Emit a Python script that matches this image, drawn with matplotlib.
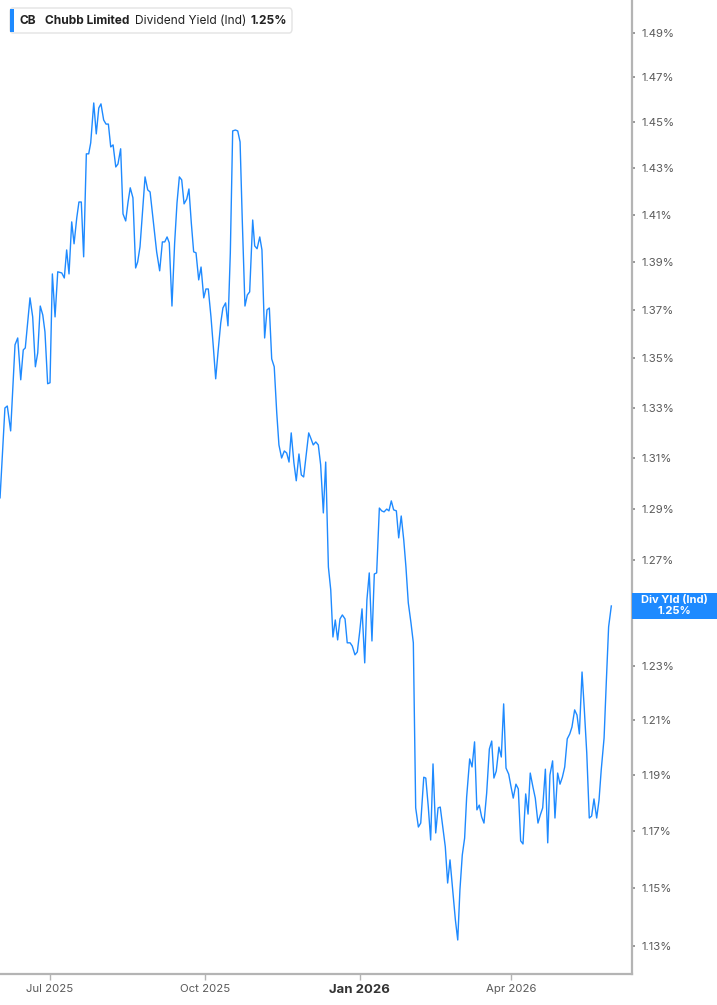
import matplotlib
matplotlib.use('Agg')
import matplotlib.pyplot as plt
import matplotlib.dates as mdates
from matplotlib.ticker import FixedLocator, NullLocator, FixedFormatter, NullFormatter
from matplotlib.patches import Rectangle, FancyBboxPatch
import pandas as pd

# ---------------- data ----------------
start_date = pd.Timestamp('2025-06-01')
days_from_start = [
    0.3, 3.2, 4.6, 6.6, 9.2, 10.8, 12.6, 14.1, 15.3, 18.1,
    19.7, 21.3, 22.7, 24.2, 25.7, 27.0, 28.6, 30.0, 31.4, 33.0,
    34.6, 37.0, 38.5, 39.9, 41.3, 42.9, 44.3, 45.9, 47.2, 48.6,
    50.0, 51.6, 53.0, 54.2, 56.0, 57.5, 59.0, 60.3, 61.9, 63.3,
    64.7, 66.1, 67.5, 69.1, 70.4, 72.0, 73.4, 75.0, 76.4, 77.7,
    79.3, 80.9, 82.1, 83.5, 85.1, 86.5, 88.1, 89.5, 91.0, 93.4,
    95.2, 96.8, 98.2, 99.6, 100.9, 102.5, 104.1, 105.5, 106.9, 108.3,
    109.7, 111.3, 112.6, 114.0, 115.4, 116.8, 118.4, 119.8, 121.4, 122.7,
    124.1, 125.7, 127.1, 128.5, 130.0, 131.5, 132.8, 134.4, 135.8, 137.2,
    138.6, 140.2, 141.6, 143.0, 144.3, 145.9, 147.3, 148.7, 150.5, 151.7,
    153.1, 154.7, 156.0, 157.6, 159.0, 160.4, 161.8, 163.3, 164.8, 166.1,
    167.7, 169.3, 170.7, 172.1, 173.4, 175.0, 176.4, 178.0, 179.4, 180.8,
    183.8, 185.2, 186.5, 188.0, 189.5, 190.9, 192.5, 193.9, 195.5, 196.9,
    198.2, 199.6, 201.0, 202.4, 203.8, 205.4, 206.7, 208.4, 209.7, 211.3,
    212.7, 214.1, 215.5, 217.1, 218.4, 219.8, 221.4, 222.8, 224.2, 225.8,
    227.2, 228.6, 230.2, 231.5, 232.9, 234.3, 235.9, 237.3, 238.8, 240.3,
    241.6, 243.0, 244.6, 246.0, 247.4, 249.0, 250.4, 252.2, 253.4, 254.9,
    256.3, 257.7, 259.3, 260.7, 262.0, 263.5, 265.0, 266.4, 267.8, 269.4,
    271.0, 272.4, 273.7, 275.1, 276.5, 277.7, 279.5, 280.9, 282.4, 283.8,
    285.2, 286.6, 288.0, 289.6, 291.2, 292.6, 293.9, 295.3, 296.9, 298.3,
    299.7, 301.1, 302.7, 304.1, 305.4, 307.0, 308.4, 309.8, 311.2, 312.8,
    314.2, 315.5, 317.1, 318.5, 320.1, 321.5, 322.9, 324.5, 325.9, 327.2,
    328.8, 330.2, 331.8, 333.2, 334.6, 336.0, 337.5, 339.0, 340.3, 341.9,
    343.3, 344.7, 346.3, 347.6, 349.1, 350.6, 352.0, 353.4, 355.0, 356.4,
    357.7, 359.4, 360.7, 362.1, 363.7,
]
yield_pct = [
    1.2942, 1.3299, 1.3307, 1.3207, 1.3556, 1.3584, 1.3413, 1.3535, 1.3543, 1.3750,
    1.3671, 1.3466, 1.3523, 1.3716, 1.3679, 1.3609, 1.3397, 1.3401, 1.3850, 1.3671,
    1.3859, 1.3854, 1.3833, 1.3951, 1.3850, 1.4070, 1.3977, 1.4087, 1.4155, 1.4155,
    1.3922, 1.4363, 1.4363, 1.4411, 1.4586, 1.4450, 1.4564, 1.4582, 1.4511, 1.4493,
    1.4493, 1.4393, 1.4402, 1.4306, 1.4319, 1.4385, 1.4104, 1.4074, 1.4155, 1.4216,
    1.4173, 1.3875, 1.3900, 1.3964, 1.4121, 1.4263, 1.4207, 1.4198, 1.4100, 1.3943,
    1.3863, 1.3985, 1.3985, 1.4006, 1.3981, 1.3716, 1.3981, 1.4151, 1.4263, 1.4250,
    1.4147, 1.4168, 1.4211, 1.4066, 1.3943, 1.3939, 1.3825, 1.3879, 1.3750, 1.3787,
    1.3787, 1.3671, 1.3547, 1.3417, 1.3535, 1.3646, 1.3708, 1.3729, 1.3634, 1.3939,
    1.4463, 1.4467, 1.4463, 1.4415, 1.4078, 1.3716, 1.3762, 1.3775, 1.4078, 1.3968,
    1.3956, 1.4006, 1.3951, 1.3584, 1.3700, 1.3708, 1.3498, 1.3466, 1.3279, 1.3151,
    1.3099, 1.3127, 1.3119, 1.3083, 1.3199, 1.3080, 1.3009, 1.3115, 1.3032, 1.3024,
    1.3199, 1.3175, 1.3151, 1.3163, 1.3151, 1.3072, 1.2883, 1.3083, 1.2674, 1.2586,
    1.2408, 1.2472, 1.2397, 1.2476, 1.2491, 1.2476, 1.2386, 1.2386, 1.2374, 1.2341,
    1.2352, 1.2427, 1.2514, 1.2311, 1.2548, 1.2651, 1.2393, 1.2647, 1.2651, 1.2902,
    1.2891, 1.2887, 1.2898, 1.2891, 1.2930, 1.2895, 1.2891, 1.2786, 1.2871, 1.2778,
    1.2674, 1.2537, 1.2461, 1.2386, 1.1782, 1.1714, 1.1728, 1.1892, 1.1889, 1.1785,
    1.1668, 1.1940, 1.1693, 1.1782, 1.1785, 1.1714, 1.1644, 1.1517, 1.1598, 1.1493,
    1.1389, 1.1320, 1.1493, 1.1615, 1.1675, 1.1821, 1.1958, 1.1929, 1.2020, 1.1775,
    1.1792, 1.1750, 1.1728, 1.1835, 1.1994, 1.2023, 1.1889, 1.1914, 1.2001, 1.1965,
    1.2159, 1.1925, 1.1903, 1.1857, 1.1817, 1.1867, 1.1850, 1.1665, 1.1654, 1.1832,
    1.1760, 1.1907, 1.1857, 1.1817, 1.1728, 1.1757, 1.1782, 1.1921, 1.1658, 1.1900,
    1.1951, 1.1746, 1.1907, 1.1867, 1.1892, 1.1929, 1.2031, 1.2049, 1.2074, 1.2137,
    1.2118, 1.2049, 1.2277, 1.2144, 1.1980, 1.1746, 1.1753, 1.1814, 1.1746, 1.1810,
    1.1918, 1.2034, 1.2236, 1.2446, 1.2525,
]
ytick_values = [1.13, 1.15, 1.17, 1.19, 1.21, 1.23, 1.25, 1.27, 1.29, 1.31,
                1.33, 1.35, 1.37, 1.39, 1.41, 1.43, 1.45, 1.47, 1.49]
hidden_tick_value = 1.25   # its label sits under the last-value box
xtick_dates = ['2025-07-01', '2025-10-01', '2026-01-01', '2026-04-01']
xtick_labels = ['Jul 2025', 'Oct 2025', 'Jan 2026', 'Apr 2026']
ticker = 'CB'
company = 'Chubb Limited'
metric = 'Dividend Yield (Ind)'
last_value_label = '1.25%'
box_label = 'Div Yld (Ind)'

# ---------------- style ----------------
BLUE = '#1e8aff'
SPINE = '#b4b4b4'
TXT = '#5a5a5a'
plt.rcParams['font.family'] = ['Inter', 'DejaVu Sans']

W, H = 717, 1005
fig = plt.figure(figsize=(W / 100, H / 100), dpi=100)
fig.patch.set_facecolor('white')
ax = fig.add_axes([0, 31 / H, 632 / W, 974 / H])
ax.set_facecolor('white')

dates = start_date + pd.to_timedelta(days_from_start, unit='D')
ax.plot(dates, yield_pct, color=BLUE, lw=1.0, solid_joinstyle='round')

ax.set_yscale('log')
ax.set_ylim(1.1204, 1.5048)
ax.set_xlim(start_date + pd.Timedelta(days=0.27), start_date + pd.Timedelta(days=376))

ax.yaxis.set_major_locator(FixedLocator(ytick_values))
ax.yaxis.set_major_formatter(FixedFormatter(
    ['' if abs(v - hidden_tick_value) < 1e-9 else f'{v:.2f}%' for v in ytick_values]))
ax.yaxis.set_minor_locator(NullLocator())
ax.yaxis.set_minor_formatter(NullFormatter())
ax.yaxis.tick_right()
ax.tick_params(axis='y', which='major', direction='out', length=2.5, width=1.2,
               color='#888888', labelcolor=TXT, labelsize=8.2, pad=4)

xt = [pd.Timestamp(d) for d in xtick_dates]
ax.set_xticks(xt)
ax.set_xticklabels(xtick_labels)
ax.xaxis.set_minor_locator(NullLocator())
ax.tick_params(axis='x', which='major', direction='out', length=4, width=1.0,
               color=SPINE, labelcolor=TXT, labelsize=8.2, pad=3.5)
for lbl in ax.get_xticklabels():
    if lbl.get_text().startswith('Jan'):
        lbl.set_fontweight('bold')
        lbl.set_fontsize(9.5)
        lbl.set_color('#333333')

for s in ['left', 'top']:
    ax.spines[s].set_visible(False)
for s in ['right', 'bottom']:
    ax.spines[s].set_color(SPINE)
    ax.spines[s].set_linewidth(1.6)

# ---------------- legend box (top-left) ----------------
fig.patches.append(FancyBboxPatch((10 / W, 1 - 33 / H), 282 / W, 25 / H,
                                  boxstyle='round,pad=0,rounding_size=0.004',
                                  transform=fig.transFigure, fc='white',
                                  ec='#e3e3e3', lw=1.0, zorder=5))
fig.patches.append(Rectangle((10 / W, 1 - 32 / H), 3.5 / W, 23 / H,
                             transform=fig.transFigure, fc=BLUE, ec='none', zorder=6))
ly = 1 - 20.5 / H
fig.text(20 / W, ly, ticker, fontsize=8.6, fontweight='bold', color='#222222',
         va='center', ha='left', zorder=7)
fig.text(45 / W, ly, company, fontsize=8.6, fontweight='bold', color='#222222',
         va='center', ha='left', zorder=7)
fig.text(135 / W, ly, metric, fontsize=8.6, color='#222222',
         va='center', ha='left', zorder=7)
fig.text(250 / W, ly, last_value_label, fontsize=8.6, fontweight='bold', color='#222222',
         va='center', ha='left', zorder=7)

# ---------------- last value box (right) ----------------
fig.canvas.draw()
last_x = mdates.date2num(dates[-1])
_, yd = ax.transData.transform((last_x, yield_pct[-1]))
x1 = ax.get_position().x1
box_h = 26
fig.patches.append(Rectangle((x1, (yd - box_h / 2) / H), 1 - x1, box_h / H,
                             transform=fig.transFigure, fc=BLUE, ec='none', zorder=8))
cx = (x1 + 1) / 2
fig.text(cx, (yd + 5.5) / H, box_label, fontsize=8.0, fontweight='bold', color='white',
         ha='center', va='center', zorder=9)
fig.text(cx, (yd - 5.5) / H, last_value_label, fontsize=8.0, fontweight='bold', color='white',
         ha='center', va='center', zorder=9)

fig.savefig('out.png', dpi=100, facecolor='white')
